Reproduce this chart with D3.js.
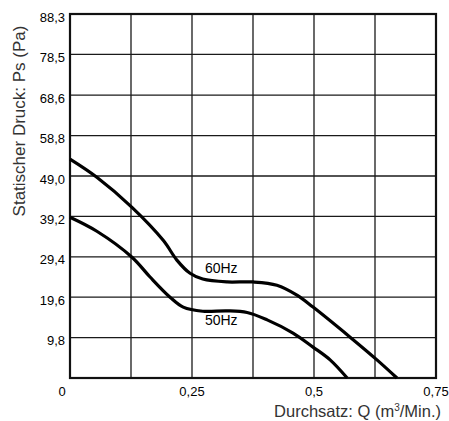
<!DOCTYPE html>
<html>
<head>
<meta charset="utf-8">
<script src="https://cdn.jsdelivr.net/npm/d3@7"></script>
<style>
  body { margin: 0; background: #fff; }
  svg text { font-family: "Liberation Sans", Arial, sans-serif; fill: #000; }
</style>
</head>
<body>
<div id="chart"></div>
<script>
var width = 449;
var height = 421;

// axis ticks (German decimal commas)
var xTicks = [0, 0.25, 0.5, 0.75];
var xTickLabels = ["0", "0,25", "0,5", "0,75"];
var xGrid = [0, 0.125, 0.25, 0.375, 0.5, 0.625, 0.75];
var yTicks = [9.8, 19.6, 29.4, 39.2, 49.0, 58.8, 68.6, 78.5, 88.3];
var yTickLabels = ["9,8", "19,6", "29,4", "39,2", "49,0", "58,8", "68,6", "78,5", "88,3"];

// curves: Q (m3/min) vs Ps (Pa)
var q60 = [0, 0.055, 0.127, 0.191, 0.219, 0.246, 0.272, 0.322, 0.375, 0.424, 0.465, 0.498, 0.574, 0.629, 0.670];
var p60 = [53.1, 48.7, 41.4, 33.4, 28.6, 25.4, 24.0, 23.3, 23.3, 22.5, 20.1, 17.2, 9.9, 4.4, 0];
var q50 = [0, 0.055, 0.127, 0.164, 0.205, 0.232, 0.272, 0.322, 0.363, 0.404, 0.457, 0.498, 0.533, 0.568];
var p50 = [39.0, 35.6, 29.3, 24.5, 19.6, 17.2, 16.2, 16.3, 15.9, 14.1, 10.9, 7.5, 4.4, 0];

var svg = d3.select("#chart").append("svg")
    .attr("width", width)
    .attr("height", height);

var x = d3.scaleLinear().domain([0, 0.75]).range([70, 436]);
var y = d3.scaleLinear().domain([0, 88.3]).range([378, 14]);

// grid
svg.append("g").selectAll("line.v")
    .data(xGrid.slice(1, -1))
    .enter().append("line")
    .attr("x1", function (d) { return x(d); })
    .attr("x2", function (d) { return x(d); })
    .attr("y1", y(0))
    .attr("y2", y(88.3))
    .attr("stroke", "#1a1a1a")
    .attr("stroke-width", 1.3);

svg.append("g").selectAll("line.h")
    .data(yTicks.slice(0, -1))
    .enter().append("line")
    .attr("x1", x(0))
    .attr("x2", x(0.75))
    .attr("y1", function (d) { return y(d); })
    .attr("y2", function (d) { return y(d); })
    .attr("stroke", "#1a1a1a")
    .attr("stroke-width", 1.3);

// frame
svg.append("rect")
    .attr("x", x(0))
    .attr("y", y(88.3))
    .attr("width", x(0.75) - x(0))
    .attr("height", y(0) - y(88.3))
    .attr("fill", "none")
    .attr("stroke", "#111")
    .attr("stroke-width", 2.2);

// y tick labels
svg.append("g").selectAll("text")
    .data(yTicks)
    .enter().append("text")
    .attr("x", 65)
    .attr("y", function (d) { return y(d) + 3; })
    .attr("text-anchor", "end")
    .attr("dominant-baseline", "central")
    .style("font-size", "13px")
    .text(function (d, i) { return yTickLabels[i]; });

// x tick labels ("0" sits left of the corner)
svg.append("g").selectAll("text")
    .data(xTicks)
    .enter().append("text")
    .attr("x", function (d, i) { return i === 0 ? x(d) - 8 : x(d); })
    .attr("y", 396)
    .attr("text-anchor", "middle")
    .style("font-size", "13px")
    .text(function (d, i) { return xTickLabels[i]; });

// curves
var line = d3.line()
    .x(function (d) { return x(d[0]); })
    .y(function (d) { return y(d[1]); })
    .curve(d3.curveCatmullRom.alpha(0.5));

[[q60, p60], [q50, p50]].forEach(function (s) {
    svg.append("path")
        .datum(d3.zip(s[0], s[1]))
        .attr("d", line)
        .attr("fill", "none")
        .attr("stroke", "#000")
        .attr("stroke-width", 3.2);
});

// curve labels
svg.append("text")
    .attr("x", x(0.31)).attr("y", y(25.5))
    .attr("text-anchor", "middle")
    .style("font-size", "14px")
    .text("60Hz");
svg.append("text")
    .attr("x", x(0.31)).attr("y", y(12.9))
    .attr("text-anchor", "middle")
    .style("font-size", "14px")
    .text("50Hz");

// axis titles
svg.append("text")
    .attr("transform", "translate(25,121) rotate(-90)")
    .attr("text-anchor", "middle")
    .style("font-size", "17px")
    .style("fill", "#333")
    .text("Statischer Druck: Ps (Pa)");

var xt = svg.append("text")
    .attr("x", 441)
    .attr("y", 417)
    .attr("text-anchor", "end")
    .style("font-size", "16.5px")
    .style("fill", "#333");
xt.append("tspan").text("Durchsatz: Q (m");
xt.append("tspan").attr("dy", -6).style("font-size", "10px").text("3");
xt.append("tspan").attr("dy", 6).text("/Min.)");
</script>
</body>
</html>
